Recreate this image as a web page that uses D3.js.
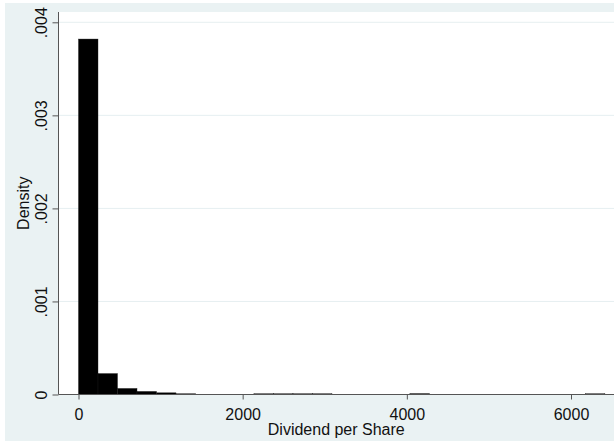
<!DOCTYPE html>
<html>
<head>
<meta charset="utf-8">
<script src="https://cdn.jsdelivr.net/npm/d3@7"></script>
<style>
  html, body { margin: 0; padding: 0; background: #ffffff; }
  svg { display: block; }
  text { font-family: "Liberation Sans", Arial, sans-serif; fill: #111; }
</style>
</head>
<body>
<svg id="chart" width="614" height="441"></svg>
<script>
// Histogram of dividend per share: bin layout and density per bin
const binStart = 0;
const binWidth = 237.5;
const densities = [
  0.00382, 0.000225, 0.000065, 0.000033, 0.000018, 0.000008,
  0, 0, 0,
  0.000008, 0.000008, 0.000008, 0.000008,
  0, 0, 0, 0,
  0.000010,
  0, 0, 0, 0, 0, 0, 0, 0,
  0.000008
];
const xTicks = [0, 2000, 4000, 6000];
const yTicks = [0, 0.001, 0.002, 0.003, 0.004];
const yTickLabels = ["0", ".001", ".002", ".003", ".004"];
const xTitle = "Dividend per Share";
const yTitle = "Density";

const bins = densities.map((d, i) => ({
  x0: binStart + i * binWidth,
  x1: binStart + (i + 1) * binWidth,
  density: d
}));

const svg = d3.select("#chart");
const W = 614, H = 441;

// graph region and plot region
const outer = { left: 5, top: 3, right: 614, bottom: 441 };
const plot = { left: 58.5, top: 12, right: 614, bottom: 394.5 };

svg.append("rect")
  .attr("x", outer.left).attr("y", outer.top)
  .attr("width", outer.right - outer.left).attr("height", outer.bottom - outer.top)
  .attr("fill", "#eaf2f3");
svg.append("rect")
  .attr("x", plot.left).attr("y", plot.top)
  .attr("width", plot.right - plot.left).attr("height", plot.bottom - plot.top)
  .attr("fill", "#ffffff");

const x = d3.scaleLinear().domain([0, 6000]).range([78.5, 571]);
const y = d3.scaleLinear().domain([0, 0.004]).range([plot.bottom, 22.3]);

// horizontal grid lines
svg.append("g").selectAll("line")
  .data(yTicks.filter(t => t > 0))
  .join("line")
  .attr("x1", plot.left).attr("x2", plot.right)
  .attr("y1", d => y(d)).attr("y2", d => y(d))
  .attr("stroke", "#e6eff1").attr("stroke-width", 1);

// bars
svg.append("g").selectAll("rect")
  .data(bins.filter(b => b.density > 0))
  .join("rect")
  .attr("x", d => x(d.x0))
  .attr("width", d => x(d.x1) - x(d.x0))
  .attr("y", d => y(d.density))
  .attr("height", d => y(0) - y(d.density))
  .attr("fill", "#000")
  .attr("stroke", "#1a1a1a")
  .attr("stroke-width", 0.4);

// x axis
const xAxis = d3.axisBottom(x).tickValues(xTicks).tickSize(5).tickPadding(9)
  .tickFormat(d3.format("d"));
const gx = svg.append("g").attr("transform", `translate(0,${plot.bottom})`).call(xAxis);
gx.select(".domain").attr("d", `M${plot.left},0H${plot.right}`).attr("stroke", "#555");
gx.selectAll(".tick line").attr("stroke", "#555");
gx.selectAll(".tick text").attr("font-size", 16).attr("font-family", "Liberation Sans, Arial, sans-serif").attr("fill", "#111");

// y axis
const yAxis = d3.axisLeft(y).tickValues(yTicks).tickSize(6)
  .tickFormat((d, i) => yTickLabels[i]);
const gy = svg.append("g").attr("transform", `translate(${plot.left},0)`).call(yAxis);
gy.select(".domain").attr("d", `M0,${plot.top}V${plot.bottom}`).attr("stroke", "#555");
gy.selectAll(".tick line").attr("stroke", "#555");
gy.selectAll(".tick text")
  .attr("font-size", 16).attr("font-family", "Liberation Sans, Arial, sans-serif").attr("fill", "#111")
  .attr("x", null).attr("dy", null)
  .attr("text-anchor", "middle")
  .attr("transform", "translate(-12,0) rotate(-90)");

// axis titles
svg.append("text")
  .attr("x", (plot.left + plot.right) / 2).attr("y", 434.5)
  .attr("text-anchor", "middle").attr("font-size", 16)
  .text(xTitle);
svg.append("text")
  .attr("transform", `translate(29,${(plot.top + plot.bottom) / 2}) rotate(-90)`)
  .attr("text-anchor", "middle").attr("font-size", 16)
  .text(yTitle);
</script>
</body>
</html>
